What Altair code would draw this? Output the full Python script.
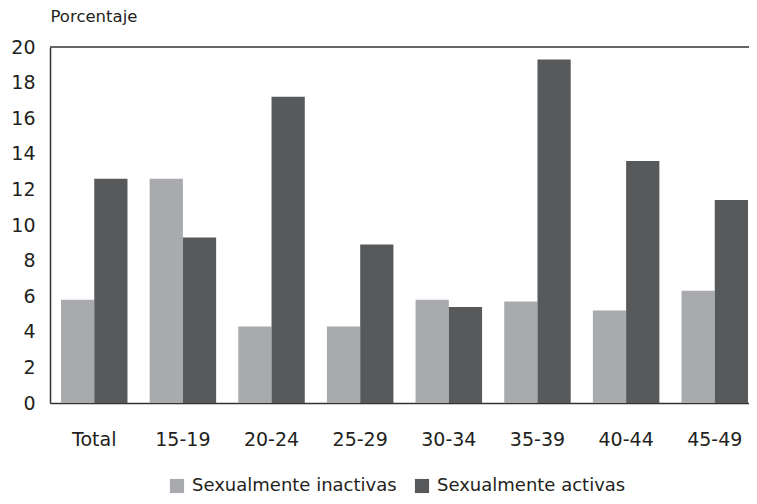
import altair as alt
import pandas as pd

categories = ["Total", "15-19", "20-24", "25-29", "30-34", "35-39", "40-44", "45-49"]
series = ["Sexualmente inactivas", "Sexualmente activas"]
inactivas = [5.8, 12.6, 4.3, 4.3, 5.8, 5.7, 5.2, 6.3]
activas = [12.6, 9.3, 17.2, 8.9, 5.4, 19.3, 13.6, 11.4]
y_ticks = [0, 2, 4, 6, 8, 10, 12, 14, 16, 18, 20]
colors = ["#a9aaad", "#58595b"]

rows = []
for c, a, b in zip(categories, inactivas, activas):
    rows.append({"grupo": c, "serie": series[0], "valor": a})
    rows.append({"grupo": c, "serie": series[1], "valor": b})
df = pd.DataFrame(rows)

FONT = "DejaVu Sans"
LINE = "#333333"
TEXT = "#231f20"

bars = alt.Chart(df).mark_bar().encode(
    x=alt.X("grupo:N", sort=categories,
            scale=alt.Scale(paddingInner=0.25, paddingOuter=0.0677, align=0.917),
            axis=alt.Axis(title=None, labelAngle=0, ticks=False, domain=True,
                          domainColor=LINE, domainWidth=1.5, labelPadding=27,
                          labelFont=FONT, labelFontSize=19, labelColor=TEXT)),
    xOffset=alt.XOffset("serie:N", sort=series,
                        scale=alt.Scale(paddingInner=0, paddingOuter=0)),
    y=alt.Y("valor:Q", scale=alt.Scale(domain=[0, 20], nice=False),
            axis=alt.Axis(title="Porcentaje", values=y_ticks, ticks=False, grid=False,
                          labelOverlap=False, labelFlush=False,
                          domain=True, domainColor=LINE, domainWidth=1.5,
                          labelPadding=15, labelFont=FONT, labelFontSize=19,
                          labelColor=TEXT,
                          titleAngle=0, titleAlign="left", titleBaseline="alphabetic",
                          titleX=0, titleY=-26, titleFont=FONT, titleFontSize=16.5,
                          titleFontWeight="normal", titleColor=TEXT)),
    color=alt.Color("serie:N", sort=series,
                    scale=alt.Scale(domain=series, range=colors),
                    legend=alt.Legend(title=None, orient="none", direction="horizontal",
                                      legendX=118, legendY=430, padding=0,
                                      symbolType="square", symbolSize=200,
                                      symbolStrokeWidth=0, labelOffset=6,
                                      columnPadding=16, labelFont=FONT,
                                      labelFontSize=18, labelColor=TEXT,
                                      labelLimit=0)),
)

# top frame line of the plot area
top_line = alt.Chart(pd.DataFrame({"k": [0]})).mark_rule(
    color=LINE, strokeWidth=1.5
).encode(y=alt.value(0))

chart = alt.layer(bars, top_line).properties(
    width=699, height=356,
    autosize=alt.AutoSizeParams(type="none"),
    padding={"left": 42, "top": 39, "right": 0, "bottom": 93},
).configure_view(stroke=None)

chart.save("out.html", embed_options={"renderer": "svg", "actions": False})
